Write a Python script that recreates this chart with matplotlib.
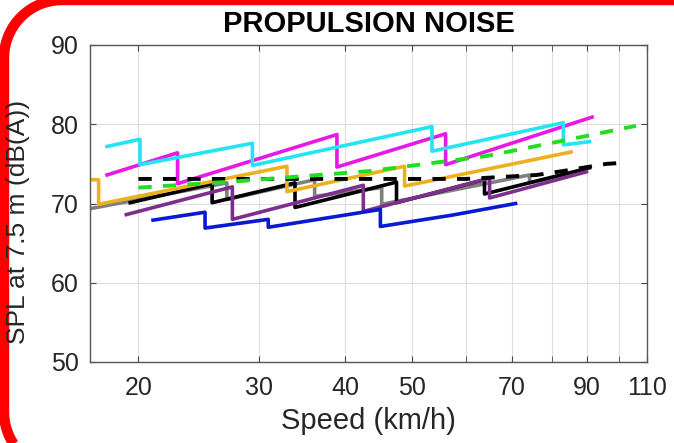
import numpy as np
import matplotlib.pyplot as plt
from matplotlib.ticker import FixedLocator, FixedFormatter, NullFormatter

plt.rcParams['font.family'] = ['Liberation Sans', 'DejaVu Sans']

# speed (km/h) / SPL (dB(A)); repeated x = gear-change drop
cyan_x = [18.0, 20.1, 20.1, 29.3, 29.3, 53.5, 53.5, 83.1, 83.1, 90.7]
cyan_y = [77.2, 78.1, 74.9, 77.6, 74.8, 79.7, 76.6, 80.2, 77.4, 77.8]

magenta_x = [18.0, 22.8, 22.8, 38.9, 38.9, 56.0, 56.0, 91.5]
magenta_y = [73.6, 76.4, 72.5, 78.7, 74.6, 78.8, 74.9, 80.9]

orange_x = [16.5, 17.5, 17.5, 32.9, 32.9, 48.8, 48.8, 85.3]
orange_y = [73.0, 73.0, 69.9, 74.7, 71.5, 74.7, 72.2, 76.5]

blue_x = [21.0, 25.0, 25.0, 30.9, 30.9, 45.0, 45.0, 57.4, 70.8]
blue_y = [67.9, 68.9, 66.9, 68.0, 67.0, 69.25, 67.1, 68.55, 70.0]

purple_x = [19.2, 27.4, 27.4, 42.5, 42.5, 64.9, 64.9, 89.8]
purple_y = [68.6, 72.1, 68.0, 72.3, 69.0, 73.2, 70.7, 74.0]

black_x = [19.45, 25.6, 25.6, 33.8, 33.8, 47.5, 47.5, 63.8, 63.8, 90.7]
black_y = [70.1, 72.5, 70.1, 72.6, 69.5, 72.7, 70.1, 73.0, 71.2, 74.5]

gray_x = [16.9, 26.9, 26.9, 36.1, 36.1, 45.2, 45.2, 74.2, 74.2, 88.0]
gray_y = [69.3, 72.6, 70.5, 73.0, 70.9, 72.0, 69.9, 73.6, 72.6, 74.0]

green_x = [20, 27.8, 43.5, 64.3, 84.4, 106]
green_y = [72.0, 72.8, 74.1, 76.0, 78.05, 79.8]

blackd_x = [20, 60, 76, 83, 96, 100]
blackd_y = [73.1, 73.1, 73.6, 74.1, 75.0, 75.1]

xticks = [20, 30, 40, 50, 70, 90, 110]
xminor = [60, 80, 100]
yticks = [50, 60, 70, 80, 90]

fig = plt.figure(figsize=(6.74, 4.43), dpi=100)

# red frame: straight top and left edges, round top-left corner, gentle bend at the bottom
bg = fig.add_axes([0, 0, 1, 1])
bg.set_xlim(0, 674)
bg.set_ylim(443, 0)
bg.set_autoscale_on(False)
bg.axis('off')
r = 58
t1 = np.linspace(np.pi, 1.5 * np.pi, 40)
t2 = np.linspace(0.5 * np.pi, np.pi, 40)
frame_x = np.concatenate([[700], 4 + r + r * np.cos(t1[::-1]), 4 + r + r * np.cos(t2[::-1])])
frame_y = np.concatenate([[0], r + r * np.sin(t1[::-1]), 470 - r + r * np.sin(t2[::-1])])
bg.plot(frame_x, frame_y, color='#ff0000', lw=7.5, solid_capstyle='butt', clip_on=False)

ax = fig.add_axes([90/674, 1-362/443, (647-90)/674, (362-45)/443])

lw = 2.6
ax.plot(gray_x, gray_y, color='#808080', lw=lw)
ax.plot(black_x, black_y, color='black', lw=lw)
ax.plot(purple_x, purple_y, color='#7e2f8e', lw=lw)
ax.plot(blue_x, blue_y, color='#0a1ad0', lw=lw)
ax.plot(orange_x, orange_y, color='#edb120', lw=lw)
ax.plot(magenta_x, magenta_y, color='#e619e6', lw=lw)
ax.plot(cyan_x, cyan_y, color='#22e4f2', lw=lw)
ax.plot(blackd_x, blackd_y, color='black', lw=2.8, dashes=(3.4, 2.9))
ax.plot(green_x, green_y, color='#22dd22', lw=2.8, dashes=(3.4, 2.9))

ax.set_xscale('log')
ax.set_xlim(17, 110)
ax.set_ylim(50, 90)
ax.xaxis.set_major_locator(FixedLocator(xticks))
ax.xaxis.set_major_formatter(FixedFormatter([str(t) for t in xticks]))
ax.xaxis.set_minor_locator(FixedLocator(xminor))
ax.xaxis.set_minor_formatter(NullFormatter())
ax.set_yticks(yticks)

ax.grid(True, which='both', color='#dedede', lw=0.8)
ax.set_axisbelow(True)
ax.tick_params(which='both', direction='in', top=True, right=True, length=4,
               color='#444444', labelsize=18, labelcolor='#262626')
ax.tick_params(axis='x', pad=10)
ax.tick_params(axis='y', pad=8)
for s in ax.spines.values():
    s.set_color('#555555')
    s.set_linewidth(1)

fig.text(369/674, 1-24/443, 'PROPULSION NOISE', ha='center', va='center',
         fontsize=21, fontweight='bold')
fig.text(368/674, 1-421/443, 'Speed (km/h)', ha='center', va='center',
         fontsize=21, color='#262626')
fig.text(18/674, 1-222/443, 'SPL at 7.5 m (dB(A))', ha='center', va='center',
         rotation=90, fontsize=19, color='#262626')

fig.savefig('out.png', dpi=100)
